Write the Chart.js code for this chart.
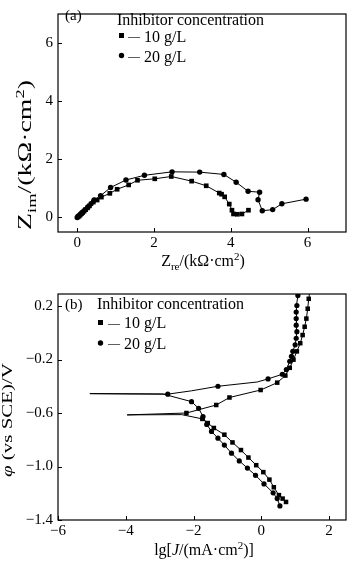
<!DOCTYPE html>
<html>
<head>
<meta charset="utf-8">
<script src="https://cdn.jsdelivr.net/npm/chart.js@4"></script>
<style>
  html, body { margin: 0; padding: 0; background: #fff; }
  canvas { display: block; }
</style>
</head>
<body>
<canvas id="nyquist" width="350" height="280"></canvas>
<canvas id="tafel" width="350" height="281"></canvas>
<script>
// --- (a) Nyquist data, Z_re / Z_im in kOhm*cm2 ---
const nyq10 = [[0.02,0.02],[0.05,0.05],[0.08,0.09],[0.11,0.13],[0.14,0.17],[0.18,0.22],[0.22,0.27],[0.27,0.33],
  [0.32,0.40],[0.42,0.53],[0.52,0.60],[0.63,0.70],[0.85,0.83],[1.04,0.97],[1.34,1.12],[1.57,1.28],[2.02,1.33],
  [2.45,1.41],[2.98,1.25],[3.36,1.09],[3.70,0.84],[3.76,0.80],[3.84,0.71],[3.96,0.46],[4.03,0.25],[4.07,0.12],
  [4.17,0.11],[4.29,0.12],[4.46,0.25]];
const nyq20 = [[0.00,0.00],[0.03,0.04],[0.06,0.08],[0.10,0.13],[0.15,0.19],[0.21,0.27],[0.28,0.36],[0.36,0.47],
  [0.44,0.60],[0.61,0.75],[0.87,1.03],[1.27,1.29],[1.75,1.45],[2.47,1.57],[3.19,1.56],[3.82,1.48],[4.14,1.21],
  [4.45,0.90],[4.75,0.87],[4.71,0.61],[4.82,0.23],[5.09,0.27],[5.33,0.47],[5.96,0.63]];
const nyqTicks = [0, 2, 4, 6];

// --- (b) polarization curves, lg j vs potential (V vs SCE) ---
// markers: cathodic branch (without Ecorr), anodic branch (starting at Ecorr)
const cath10 = [[-1.74,-0.644],[-1.58,-0.675],[-1.40,-0.712],[-1.09,-0.762],[-0.85,-0.82],[-0.60,-0.877],[-0.38,-0.933],
  [-0.15,-0.99],[0.06,-1.042],[0.24,-1.098],[0.37,-1.155],[0.52,-1.214],[0.63,-1.24],[0.73,-1.265]];
const anod10 = [[-2.21,-0.60],[-1.33,-0.54],[-0.94,-0.484],[-0.02,-0.428],[0.47,-0.373],[0.71,-0.32],[0.84,-0.262],
  [0.95,-0.201],[1.05,-0.139],[1.15,-0.078],[1.22,-0.017],[1.28,0.045],[1.33,0.106],[1.37,0.18],[1.40,0.254]];
const cath20 = [[-2.06,-0.515],[-1.85,-0.565],[-1.72,-0.626],[-1.61,-0.685],[-1.47,-0.738],[-1.28,-0.788],[-1.09,-0.84],
  [-0.88,-0.90],[-0.65,-0.958],[-0.41,-1.012],[-0.17,-1.066],[0.08,-1.13],[0.35,-1.197],[0.47,-1.24],[0.55,-1.295]];
const anod20 = [[-2.76,-0.459],[-1.28,-0.40],[0.20,-0.345],[0.62,-0.31],[0.74,-0.275],[0.84,-0.213],[0.89,-0.176],
  [0.93,-0.139],[1.00,-0.09],[1.03,-0.041],[1.05,0.008],[1.03,0.057],[1.03,0.106],[1.03,0.155],[1.05,0.204],[1.08,0.278]];
// line-only parts of the curves (Ecorr spike, bends between markers, ends at the top)
const spike10 = [[-2.35,-0.612],[-3.96,-0.614]];
const bend10 = [[-0.12,-0.434]];
const top10 = [1.42, 0.29];
const spike20 = [[-2.9,-0.458],[-5.06,-0.455]];
const bend20 = [[-2.06,-0.434],[-0.12,-0.368]];
const top20 = [1.10, 0.29];
const tafelXTicks = [-6, -4, -2, 0, 2];
const tafelYTicks = [-1.4, -1.0, -0.6, -0.2, 0.2];

const SERIF = '"Liberation Serif", "Times New Roman", serif';
const xy = p => ({ x: p[0], y: p[1] });
const byY = (a, b) => a[1] - b[1];

function tafelPath(cath, spike, anod, bend, top) {
  const down = cath.slice().sort(byY);
  const up = anod.concat(bend).sort(byY);
  return [...down, ...spike, ...up, top];
}

// panel annotations, looked up by canvas id
const panels = {
  nyquist: {
    letter: { text: '(a)', x: 65, y: 20 },
    legend: { title: 'Inhibitor concentration', x: 117, y: 24.5, mx: 121.5, dx: 128, tx: 144,
      rows: [{ text: '10 g/L', y: 42, my: 35.5 }, { text: '20 g/L', y: 62, my: 55.5 }] },
    titles: [
      { parts: [['Z', ''], ['re', 'sub'], ['/(k\u03A9\u00B7cm', ''], ['2', 'sup'], [')', '']], x: 203, y: 266, size: 16 },
      { parts: [['Z', ''], ['im', 'sub'], ['/(k\u03A9\u00B7cm', ''], ['2', 'sup'], [')', '']], x: 31, y: 155, size: 18, rotate: true, len: 150 }
    ]
  },
  tafel: {
    letter: { text: '(b)', x: 65, y: 29 },
    legend: { title: 'Inhibitor concentration', x: 97, y: 29, mx: 100.5, dx: 108, tx: 124,
      rows: [{ text: '10 g/L', y: 48, my: 42.5 }, { text: '20 g/L', y: 68.5, my: 63 }] },
    titles: [
      { parts: [['lg[', ''], ['J', 'it'], ['/(mA\u00B7cm', ''], ['2', 'sup'], [')]', '']], x: 204, y: 275, size: 16 },
      { parts: [['\u03C6', 'it'], [' (vs SCE)/V', '']], x: 12, y: 140, size: 15, rotate: true, len: 114 }
    ]
  }
};

function fontFor(kind, size) {
  const s = (kind === 'sub' || kind === 'sup') ? Math.round(size * 0.68) : size;
  return (kind === 'it' ? 'italic ' : '') + s + 'px ' + SERIF;
}

// text with sub/superscripts; x,y = centre along the text, baseline
function drawRich(ctx, t) {
  ctx.save();
  ctx.translate(t.x, t.y);
  if (t.rotate) ctx.rotate(-Math.PI / 2);
  let w = 0;
  t.parts.forEach(([s, k]) => { ctx.font = fontFor(k, t.size); w += ctx.measureText(s).width; });
  if (t.len) ctx.scale(t.len / w, 1);
  ctx.fillStyle = '#000';
  ctx.textAlign = 'left';
  ctx.textBaseline = 'alphabetic';
  let cx = -w / 2;
  t.parts.forEach(([s, k]) => {
    ctx.font = fontFor(k, t.size);
    const dy = k === 'sub' ? t.size * 0.28 : k === 'sup' ? -t.size * 0.4 : 0;
    ctx.fillText(s, cx, dy);
    cx += ctx.measureText(s).width;
  });
  ctx.restore();
}

const decor = {
  id: 'decor',
  afterDraw(chart) {
    const { ctx, chartArea: a, scales } = chart;
    const opts = panels[chart.canvas.id];
    ctx.save();
    // frame
    ctx.strokeStyle = '#000';
    ctx.lineWidth = 1.2;
    ctx.strokeRect(a.left, a.top, a.right - a.left, a.bottom - a.top);
    // inward ticks
    ctx.lineWidth = 1;
    ctx.beginPath();
    scales.x.ticks.forEach(t => {
      const p = Math.round(scales.x.getPixelForValue(t.value)) + 0.5;
      ctx.moveTo(p, a.bottom); ctx.lineTo(p, a.bottom - 4);
    });
    scales.y.ticks.forEach(t => {
      const p = Math.round(scales.y.getPixelForValue(t.value)) + 0.5;
      ctx.moveTo(a.left, p); ctx.lineTo(a.left + 4, p);
    });
    ctx.stroke();
    // panel letter + legend
    ctx.fillStyle = '#000';
    ctx.textAlign = 'left';
    ctx.textBaseline = 'alphabetic';
    ctx.font = '15px ' + SERIF;
    ctx.fillText(opts.letter.text, opts.letter.x, opts.letter.y);
    const L = opts.legend;
    ctx.font = '16px ' + SERIF;
    ctx.fillText(L.title, L.x, L.y);
    L.rows.forEach((r, i) => {
      if (i === 0) {
        ctx.fillRect(L.mx - 2.5, r.my - 2.5, 5, 5);
      } else {
        ctx.beginPath(); ctx.arc(L.mx, r.my, 2.7, 0, Math.PI * 2); ctx.fill();
      }
      ctx.font = '12px ' + SERIF;
      ctx.fillText('\u2014', L.dx, r.my + 4);
      ctx.font = '16px ' + SERIF;
      ctx.fillText(r.text, L.tx, r.y);
    });
    ctx.restore();
    opts.titles.forEach(t => drawRich(ctx, t));
  }
};

function axis(min, max, ticks, fmt, size, pad) {
  return {
    type: 'linear', min: min, max: max,
    grid: { display: false, drawTicks: false },
    border: { display: false },
    afterBuildTicks: s => { s.ticks = ticks.map(v => ({ value: v })); },
    afterFit: s => { if (s.isHorizontal()) s.height = size; else s.width = size; },
    ticks: { color: '#000', padding: pad, font: { family: SERIF, size: 15 }, callback: fmt }
  };
}
const minus = v => String(v).replace('-', '\u2212');

function lineSet(points, style) {
  return Object.assign({
    data: points.map(xy), showLine: true, borderColor: '#000', borderWidth: 1,
    pointBackgroundColor: '#000', pointBorderColor: '#000', pointBorderWidth: 0
  }, style);
}

const base = {
  responsive: false, animation: false, events: [],
  plugins: { legend: { display: false }, tooltip: { enabled: false } }
};

// (a) Nyquist
new Chart(document.getElementById('nyquist'), {
  type: 'scatter',
  data: {
    datasets: [
      lineSet(nyq10, { pointStyle: 'rect', pointRadius: 3.3 }),
      lineSet(nyq20, { pointStyle: 'circle', pointRadius: 2.7 })
    ]
  },
  options: Object.assign({}, base, {
    layout: { padding: { top: 1, right: 1, left: 0, bottom: 0 } },
    scales: {
      x: axis(-0.5, 7, nyqTicks, v => v, 48, 2),
      y: axis(-0.5, 7, nyqTicks, v => v, 58, 5)
    }
  }),
  plugins: [decor]
});

// (b) polarization curves
new Chart(document.getElementById('tafel'), {
  type: 'scatter',
  data: {
    datasets: [
      lineSet(tafelPath(cath10, spike10, anod10, bend10, top10), { pointRadius: 0 }),
      lineSet(tafelPath(cath20, spike20, anod20, bend20, top20), { pointRadius: 0 }),
      lineSet(cath10.concat(anod10), { showLine: false, pointStyle: 'rect', pointRadius: 3.2 }),
      lineSet(cath20.concat(anod20), { showLine: false, pointStyle: 'circle', pointRadius: 2.6 })
    ]
  },
  options: Object.assign({}, base, {
    layout: { padding: { top: 10, right: 1, left: 0, bottom: 0 } },
    scales: {
      x: axis(-6, 2.5, tafelXTicks, minus, 41, 2),
      y: axis(-1.4, 0.29, tafelYTicks, v => minus(v.toFixed(1)), 58, 5)
    }
  }),
  plugins: [decor]
});
</script>
</body>
</html>
